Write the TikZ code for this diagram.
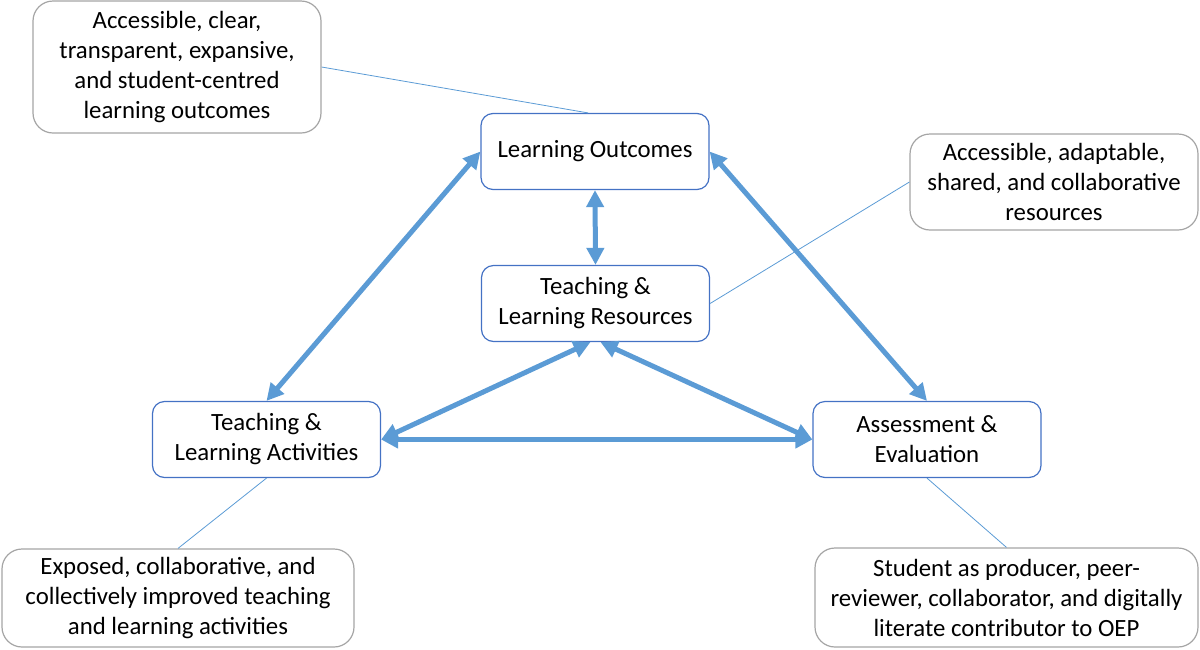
\documentclass[tikz,border=0pt]{standalone}
\usepackage{fontspec}
\setmainfont{Carlito}
\usetikzlibrary{arrows.meta}
\definecolor{arrowblue}{HTML}{5B9BD5}
\definecolor{boxblue}{HTML}{4472C4}
\definecolor{notegray}{HTML}{A5A5A5}

\begin{document}
\begin{tikzpicture}[x=0.5pt,y=-0.5pt,
  box/.style={draw=boxblue,line width=0.6pt,rounded corners=6pt,minimum width=114pt,minimum height=38pt,align=center,inner sep=0pt,font=\fontsize{12.4}{15}\selectfont},
  note/.style={draw=notegray,line width=0.6pt,rounded corners=10pt,align=center,inner sep=0pt,font=\fontsize{12.4}{15}\selectfont},
  link/.style={arrowblue,line width=2.5pt,{Triangle[length=8.5pt,width=8.5pt]}-{Triangle[length=8.5pt,width=8.5pt]}},
  leader/.style={arrowblue,line width=0.4pt}]

       \useasboundingbox (0,0) rectangle (1200,649);

       \node[box] (lo) at (595, 151.5) {Learning Outcomes};
       \node[box] (res) at (595.5, 303.5) {Teaching \&\\Learning Resources};
       \node[box] (act) at (266.5, 439.5) {Teaching \&\\Learning Activities};
       \node[box] (ass) at (927, 439.5) {Assessment \&\\Evaluation};

       \node[note,minimum width=144pt,minimum height=66pt] (lonote) at (177, 67) {Accessible, clear,\\transparent, expansive,\\and student-centred\\learning outcomes};
       \node[note,minimum width=144pt,minimum height=48pt] (resnote) at (1054, 182) {Accessible, adaptable,\\shared, and collaborative\\resources};
       \node[note,minimum width=176pt,minimum height=49pt] (actnote) at (178, 598) {Exposed, collaborative, and\\collectively improved teaching\\and learning activities};
       \node[note,minimum width=191.5pt,minimum height=49.5pt] (assnote) at (1006.5, 597.5) {Student as producer, peer-\\reviewer, collaborator, and digitally\\literate contributor to OEP};

       \draw[leader] (lonote.east) -- ([xshift=-3.5pt]lo.north);
       \draw[leader] (resnote.west) -- (res.east);
       \draw[leader] (act.south) -- (actnote.north);
       \draw[leader] (ass.south) -- (assnote.north);

       \draw[link] (lo.west) -- (act.north);
       \draw[link] (lo.east) -- (ass.north);
       \draw[link] (lo.south) -- (res.north);
       \draw[link] ([xshift=-2.5pt]res.south) -- (act.east);
       \draw[link] ([xshift=2.5pt]res.south) -- (ass.west);
       \draw[link] (act.east) -- (ass.west);
     \end{tikzpicture}
\end{document}
